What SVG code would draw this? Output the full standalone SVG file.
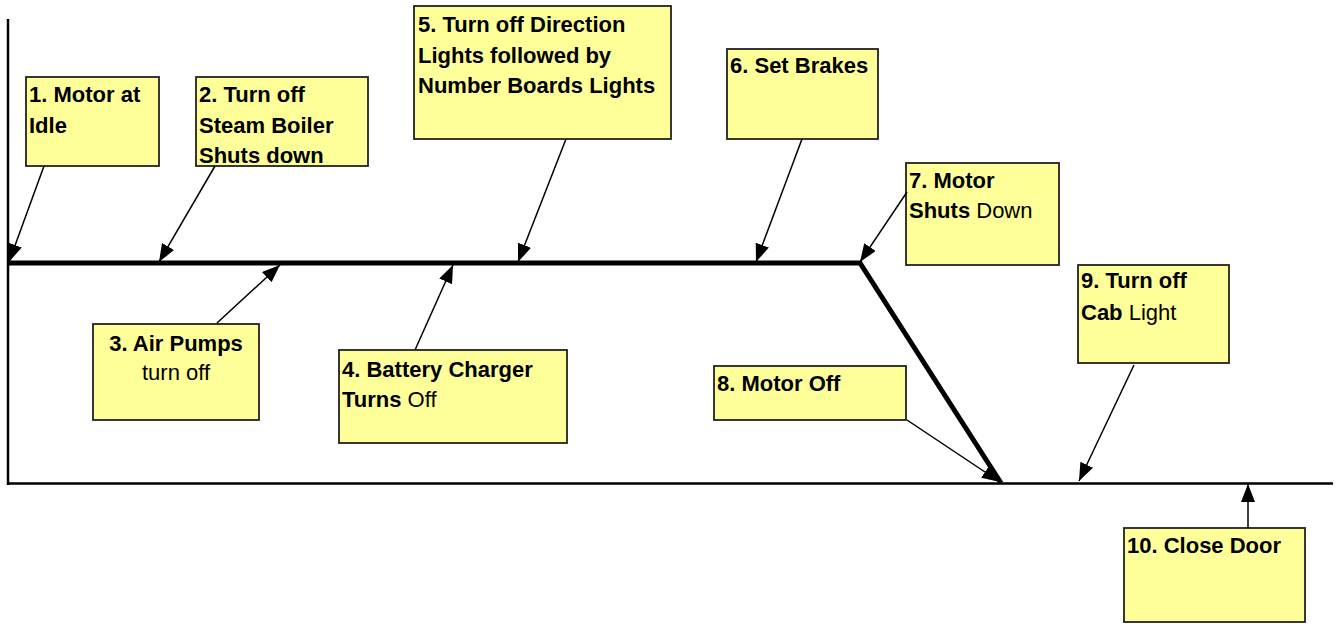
<svg xmlns="http://www.w3.org/2000/svg" width="1337" height="624" viewBox="0 0 1337 624">
<style>
.box{fill:#FFFF99;stroke:#222;stroke-width:1.8}
.t{font-family:"Liberation Sans",Arial,sans-serif;font-size:22px;fill:#000}
.b{font-weight:bold}
.n{font-weight:normal}
.ar{stroke:#000;stroke-width:1.5;fill:none;marker-end:url(#ah)}
.axis{stroke:#000;stroke-width:2.5;fill:none}
.main{stroke:#000;stroke-width:5;fill:none;stroke-linejoin:miter}
</style>
<defs>
<marker id="ah" markerUnits="userSpaceOnUse" markerWidth="20" markerHeight="16" refX="18" refY="7" orient="auto">
<path d="M0,0 L18,7 L0,14 Z" fill="#000"/>
</marker>
</defs>
<g id="axes">
<path class="axis" d="M8,19 V485"/>
<path class="axis" d="M8,483.5 H1333"/>
<path class="main" d="M8,263 H860 L1001,483"/>
</g>
<g id="n1"><rect class="box" x="26" y="77" width="133" height="89"/><text class="t b" x="29" y="102">1. Motor at</text><text class="t b" x="29" y="133">Idle</text></g>
<g id="n2"><rect class="box" x="196" y="77" width="172" height="89"/><text class="t b" x="199" y="102">2. Turn off</text><text class="t b" x="199" y="133">Steam Boiler</text><text class="t b" x="199" y="163">Shuts down</text></g>
<g id="n3"><rect class="box" x="93" y="324" width="166" height="96"/><text class="t b" x="176" y="351" text-anchor="middle">3. Air Pumps</text><text class="t n" x="176" y="380" text-anchor="middle">turn off</text></g>
<g id="n4"><rect class="box" x="339" y="350" width="228" height="93"/><text class="t b" x="342" y="377">4. Battery Charger</text><text class="t" x="342" y="407"><tspan class="b">Turns</tspan> Off</text></g>
<g id="n5"><rect class="box" x="414" y="6" width="257" height="133"/><text class="t b" x="418" y="32">5. Turn off Direction</text><text class="t b" x="418" y="63">Lights followed by</text><text class="t b" x="418" y="93">Number Boards Lights</text></g>
<g id="n6"><rect class="box" x="727" y="49" width="151" height="90"/><text class="t b" x="730" y="73">6. Set Brakes</text></g>
<g id="n7"><rect class="box" x="906" y="163" width="153" height="102"/><text class="t b" x="909" y="188">7. Motor</text><text class="t" x="909" y="218"><tspan class="b">Shuts</tspan> Down</text></g>
<g id="n8"><rect class="box" x="714" y="366" width="192" height="54"/><text class="t b" x="717" y="391">8. Motor Off</text></g>
<g id="n9"><rect class="box" x="1078" y="265" width="151" height="98"/><text class="t b" x="1081" y="288">9. Turn off</text><text class="t" x="1081" y="320"><tspan class="b">Cab</tspan> Light</text></g>
<g id="n10"><rect class="box" x="1124" y="528" width="181" height="94"/><text class="t b" x="1127" y="553">10. Close Door</text></g>
<g id="connectors">
<path class="ar" d="M44,166 L9,262"/>
<path class="ar" d="M215,166 L159,262"/>
<path class="ar" d="M217,323 L280,265"/>
<path class="ar" d="M415,350 L453,265"/>
<path class="ar" d="M566,139 L518,262"/>
<path class="ar" d="M802,139 L756,262"/>
<path class="ar" d="M907,192 L860,262"/>
<path class="ar" d="M907,420 L1000,482"/>
<path class="ar" d="M1134,365 L1079,481"/>
<path class="ar" d="M1248,528 L1248,484"/>
</g>
</svg>
